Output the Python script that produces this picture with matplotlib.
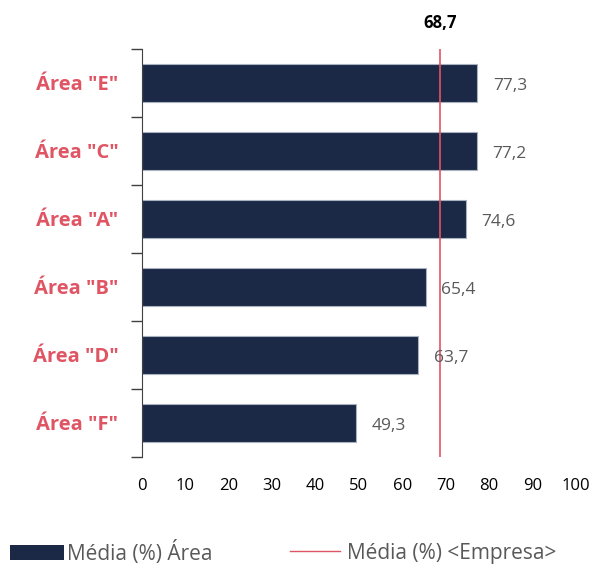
import matplotlib
matplotlib.use("Agg")
import matplotlib.pyplot as plt
from matplotlib.patches import Patch
from matplotlib.lines import Line2D

plt.rcParams["font.family"] = ["Open Sans", "DejaVu Sans"]

areas = ['Área "E"', 'Área "C"', 'Área "A"', 'Área "B"', 'Área "D"', 'Área "F"']
values = [77.3, 77.2, 74.6, 65.4, 63.7, 49.3]
company_mean = 68.7
xticks = [0, 10, 20, 30, 40, 50, 60, 70, 80, 90, 100]

bar_color = "#1b2946"
line_color = "#e05564"
text_gray = "#595959"

fig = plt.figure(figsize=(5.93, 5.65), dpi=100)
ax = fig.add_axes([142 / 593, 1 - 457 / 565, 434 / 593, 408 / 565])

pos = list(range(len(areas)))
ax.barh(pos, values, height=0.55, color=bar_color, edgecolor="#a9b1c0", linewidth=0.8)
ax.set_ylim(len(areas) - 0.5, -0.5)
ax.set_xlim(0, 100)

for p, v in zip(pos, values):
    ax.text(v + 3.6, p + 0.05, f"{v:.1f}".replace(".", ","), va="center", ha="left",
            fontsize=12.5, color=text_gray)

ax.axvline(company_mean, color=line_color, linewidth=1.2)
ax.text(company_mean, -0.5 - 0.38, f"{company_mean:.1f}".replace(".", ","), ha="center",
        va="center", fontsize=12, fontweight="bold", color="black")

ax.set_yticks([p - 0.5 for p in pos] + [len(areas) - 0.5])
ax.set_yticklabels([])
ax.set_yticks(pos, minor=True)
ax.set_yticklabels(areas, minor=True, fontsize=14.5, fontweight="bold", color=line_color)
ax.tick_params(axis="y", which="major", length=8, width=1, color="#404040")
ax.tick_params(axis="y", which="minor", length=0, pad=17)

ax.set_xticks(xticks)
ax.set_xticklabels([str(t) for t in xticks], fontsize=12, color="black")
ax.tick_params(axis="x", length=0, pad=15)

for s in ["top", "right", "bottom"]:
    ax.spines[s].set_visible(False)
ax.spines["left"].set_color("#404040")

leg1 = fig.legend(handles=[Patch(facecolor=bar_color, label="Média (%) Área")],
                  loc="center left", bbox_to_anchor=(10 / 593, 1 - 553 / 565),
                  frameon=False, fontsize=15, labelcolor=text_gray, handlelength=2.6,
                  handleheight=0.75, handletextpad=0.15, borderpad=0, borderaxespad=0)
leg2 = fig.legend(handles=[Line2D([0], [0], color=line_color, linewidth=1,
                                  label="Média (%) <Empresa>")],
                  loc="center left", bbox_to_anchor=(290 / 593, 1 - 553 / 565),
                  frameon=False, fontsize=15, labelcolor=text_gray, handlelength=2.4,
                  handletextpad=0.35, borderpad=0, borderaxespad=0)

fig.savefig("out.png", dpi=100)
